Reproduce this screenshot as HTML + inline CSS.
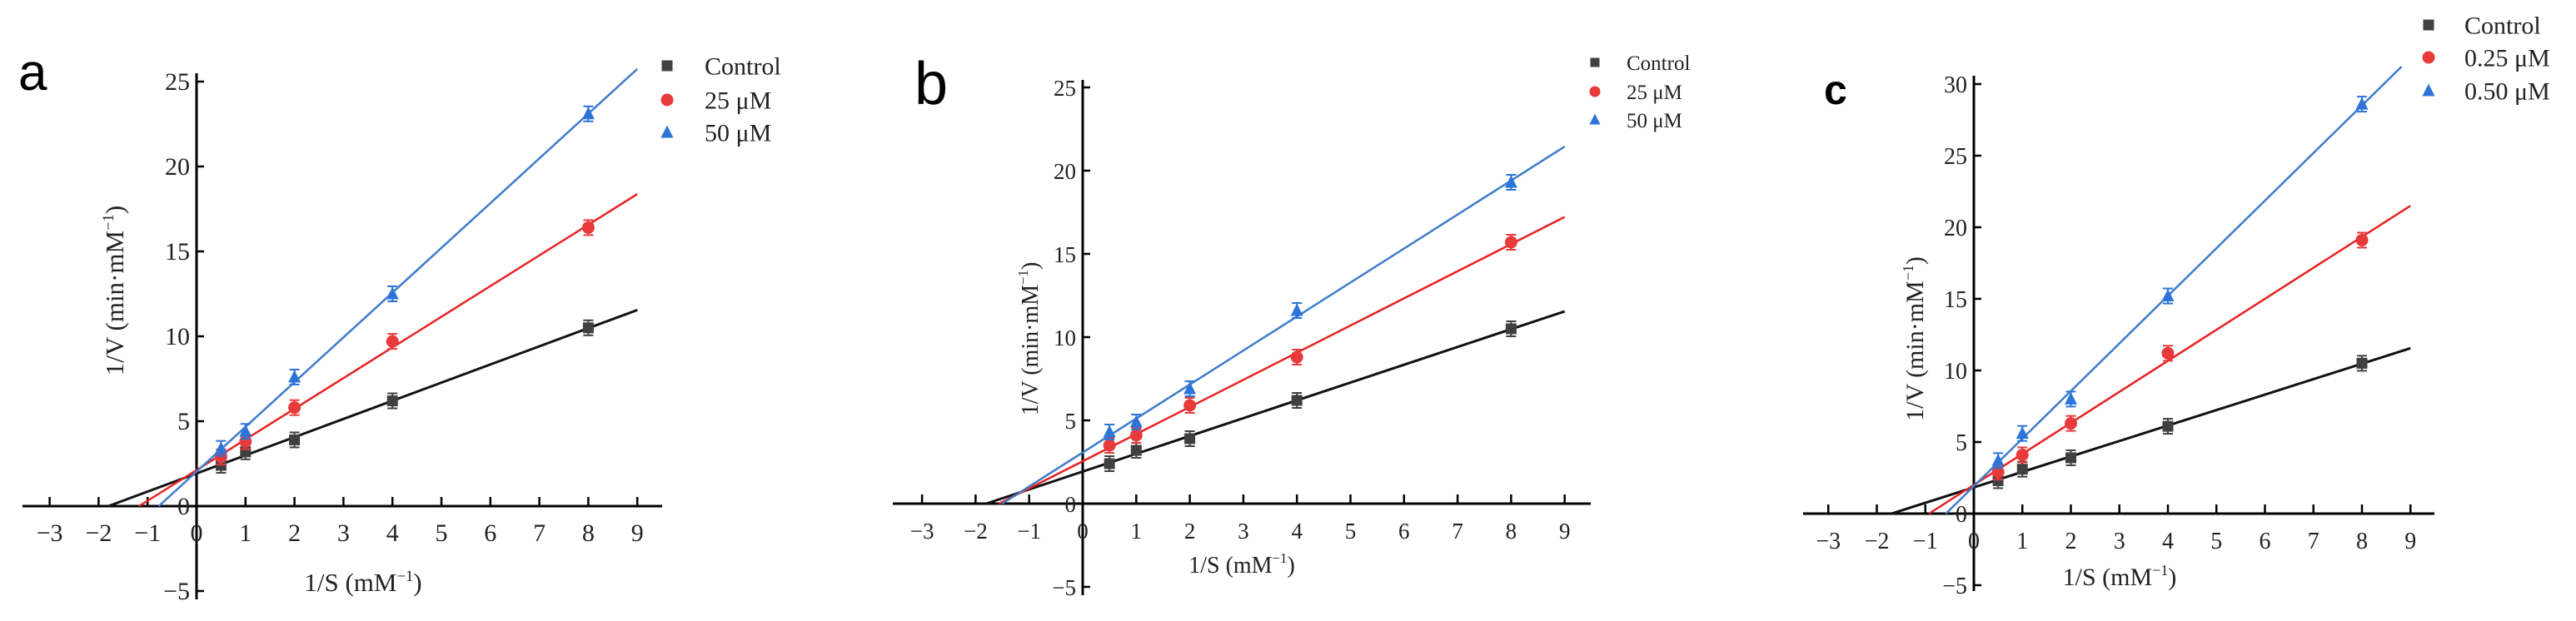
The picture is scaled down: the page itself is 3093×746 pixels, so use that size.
<!DOCTYPE html>
<html><head><meta charset="utf-8"><style>
html,body{margin:0;padding:0;background:#fff;}
svg{display:block;}
text{font-family:"Liberation Serif",serif;}
text.lbl{font-family:"Liberation Sans",sans-serif;}
</style></head><body>
<svg id="fig" width="3093" height="746" viewBox="0 0 3093 746" xmlns="http://www.w3.org/2000/svg"></svg>
<script>
// ---- data ----
const xVals = [0.5, 1, 2, 4, 8];
const xTicks = [-3,-2,-1,0,1,2,3,4,5,6,7,8,9];
const aControl = [2.4, 3.2, 3.9, 6.2, 10.5];
const a25 = [2.9, 3.8, 5.8, 9.7, 16.4];
const a50 = [3.4, 4.4, 7.6, 12.5, 23.1];
const aYTicks = [-5, 0, 5, 10, 15, 20, 25];
const bControl = [2.4, 3.2, 3.9, 6.2, 10.5];
const b25 = [3.5, 4.1, 5.9, 8.8, 15.7];
const b50 = [4.3, 4.9, 6.9, 11.6, 19.3];
const bYTicks = [-5, 0, 5, 10, 15, 20, 25];
const cControl = [2.3, 3.1, 3.9, 6.1, 10.5];
const c025 = [2.9, 4.1, 6.3, 11.2, 19.1];
const c050 = [3.7, 5.6, 8.0, 15.2, 28.6];
const cYTicks = [-5, 0, 5, 10, 15, 20, 25, 30];
const aLegend = ["Control", "25 μM", "50 μM"];
const bLegend = ["Control", "25 μM", "50 μM"];
const cLegend = ["Control", "0.25 μM", "0.50 μM"];

const NS = "http://www.w3.org/2000/svg";
const svg = document.getElementById('fig');
function mk(tag, attrs, parent){const e=document.createElementNS(NS,tag);for(const k in attrs)e.setAttribute(k,attrs[k]);(parent||svg).appendChild(e);return e;}
function fit(xs, ys){const n=xs.length;let sx=0,sy=0,sxx=0,sxy=0;for(let i=0;i<n;i++){sx+=xs[i];sy+=ys[i];sxx+=xs[i]*xs[i];sxy+=xs[i]*ys[i];}const m=(n*sxy-sx*sy)/(n*sxx-sx*sx);return {m:m,b:(sy-m*sx)/n};}
const colors = {mk:["#404040","#e8393b","#2d74d8"], ln:["#111111","#e82222","#3d7ccc"]};

function marker(g, kind, cx, cy, col, s){
  if(kind===0) return mk('rect',{x:cx-s/2,y:cy-s/2,width:s,height:s,fill:col},g);
  if(kind===1) return mk('circle',{cx:cx,cy:cy,r:s/2+1,fill:col},g);
  return mk('polygon',{points:`${cx},${cy-s/2-2} ${cx-s/2-1},${cy+s/2} ${cx+s/2+1},${cy+s/2}`,fill:col},g);
}

function panel(p){
  const g = mk('g',{});
  
  
  const X = v => p.x0 + v*p.ux;
  const Y = v => p.y0 - v*p.uy;
  const L = mk('text',{x:p.lx,y:p.ly,'font-size':p.lsize,'font-weight':p.lw,'class':'lbl',fill:'#000'},g);
  L.textContent = p.id;
  
  
  const xa = mk('line',{x1:p.xl,x2:p.xr,y1:p.y0,y2:p.y0,stroke:'#000','stroke-width':3},g);
  
  
  const ya = mk('line',{x1:p.x0,x2:p.x0,y1:p.yt,y2:p.yb,stroke:'#000','stroke-width':3},g);
  
  
  xTicks.forEach(t=>{
    mk('line',{x1:X(t),x2:X(t),y1:p.y0,y2:p.y0-11,stroke:'#000','stroke-width':2.5},g);
    const tx = mk('text',{x:X(t),y:p.y0+42,'text-anchor':'middle','font-size':p.fs,fill:'#222'},g);
    tx.textContent = t<0 ? '−'+(-t) : String(t);
    
    
  });
  p.yTicks.forEach(t=>{
    mk('line',{x1:p.x0,x2:p.x0+9,y1:Y(t),y2:Y(t),stroke:'#000','stroke-width':2.5},g);
    const ty = mk('text',{x:p.x0-8,y:Y(t)+10,'text-anchor':'end','font-size':p.fs,fill:'#222'},g);
    ty.textContent = t<0 ? '−'+(-t) : String(t);
    
    
  });
  const yt = mk('text',{x:0,y:0,'text-anchor':'middle','font-size':p.tfs,fill:'#222',transform:`translate(${p.ytx},${p.yty}) rotate(-90)`},g);
  yt.innerHTML = '1/V (min·mM<tspan dy="-12" font-size="'+(p.tfs*0.6)+'">−1</tspan><tspan dy="12">)</tspan>';
  
  
  const xt = mk('text',{x:p.xtx,y:p.xty,'text-anchor':'middle','font-size':p.tfs,fill:'#222'},g);
  xt.innerHTML = '1/S (mM<tspan dy="-12" font-size="'+(p.tfs*0.6)+'">−1</tspan><tspan dy="12">)</tspan>';
  
  
  p.series.forEach((ys,k)=>{
    const f = fit(xVals, ys);
    const xStart = -f.b/f.m;
    let xEnd = 9;
    const yMaxV = (p.y0 - p.clipTop)/p.uy;
    if(f.m*xEnd+f.b > yMaxV) xEnd = (yMaxV - f.b)/f.m;
    const ln = mk('line',{x1:X(xStart),y1:Y(0),x2:X(xEnd),y2:Y(f.m*xEnd+f.b),stroke:colors.ln[k],'stroke-width':k===0?3:2.5},g);
    
    
    xVals.forEach((xv,i)=>{
      const cx=X(xv), cy=Y(ys[i]);
      mk('line',{x1:cx,x2:cx,y1:cy-9,y2:cy+9,stroke:colors.mk[k],'stroke-width':2},g);
      mk('line',{x1:cx-6,x2:cx+6,y1:cy-9,y2:cy-9,stroke:colors.mk[k],'stroke-width':2},g);
      mk('line',{x1:cx-6,x2:cx+6,y1:cy+9,y2:cy+9,stroke:colors.mk[k],'stroke-width':2},g);
      const m = marker(g,k,cx,cy,colors.mk[k],13);
      
      
    });
    const ly = p.legY[k];
    const lm = marker(g,k,p.legMx,ly,colors.mk[k],p.legMs);
    
    
    const lt = mk('text',{x:p.legTx,y:ly+p.lfs*0.35,'font-size':p.lfs,fill:'#222'},g);
    lt.textContent = p.legend[k];
    
    
  });
}

panel({id:'a',x0:236,ux:58.8,y0:608,uy:20.4,xl:27,xr:795,yt:88,yb:720,clipTop:80,
  lx:22,ly:108,lsize:62,lw:'normal',fs:30,tfs:31,ytx:148,yty:349,xtx:436,xty:710,
  yTicks:aYTicks,series:[aControl,a25,a50],legend:aLegend,
  legMx:801,legTx:846,legY:[79,120,159],legMs:13,lfs:30});
panel({id:'b',x0:1300,ux:64.3,y0:605,uy:20,xl:1072,xr:1910,yt:96,yb:715,clipTop:80,
  lx:1098,ly:125,lsize:72,lw:'normal',fs:27,tfs:28,ytx:1246,yty:407,xtx:1491,xty:688,
  yTicks:bYTicks,series:[bControl,b25,b50],legend:bLegend,
  legMx:1915,legTx:1953,legY:[75,110,144],legMs:11,lfs:25});
panel({id:'c',x0:2370,ux:58.25,y0:617,uy:17.2,xl:2165,xr:2923,yt:91,yb:710,clipTop:80,
  lx:2190,ly:125,lsize:50,lw:'bold',fs:28,tfs:30,ytx:2309,yty:407,xtx:2545,xty:703,
  yTicks:cYTicks,series:[cControl,c025,c050],legend:cLegend,
  legMx:2916,legTx:2959,legY:[30,69,109],legMs:13,lfs:30});
</script>
</body></html>
